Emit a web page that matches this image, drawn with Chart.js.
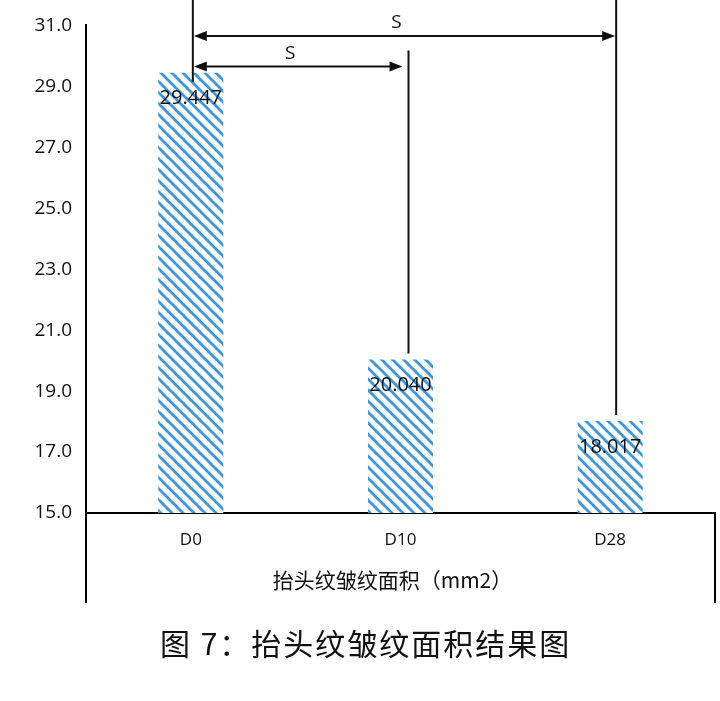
<!DOCTYPE html>
<html>
<head>
<meta charset="utf-8">
<script src="https://cdn.jsdelivr.net/npm/chart.js@4.4.0/dist/chart.umd.min.js"></script>
<style>
  html, body { margin: 0; padding: 0; background: #fff; }
  #wrap { position: relative; width: 720px; height: 701px; }
  #caption {
    position: absolute; left: 160px; top: 620px;
    font-family: "Noto Sans CJK SC", sans-serif; font-size: 30px;
    letter-spacing: 2px; color: #111; white-space: nowrap; font-weight: 400;
  }
</style>
</head>
<body>
<div id="wrap">
  <canvas id="c" width="720" height="701"></canvas>
  <div id="caption">图 7：抬头纹皱纹面积结果图</div>
</div>
<script>
// ---- data ----
const categories = ['D0', 'D10', 'D28'];
const values = [29.447, 20.040, 18.017];
const yMin = 15.0;
const yMax = 31.0;
const yStep = 2.0;
const axisTitle = '抬头纹皱纹面积（mm2）';
// significance brackets: from category index to category index at a value level
const bracketFrom = [0, 0];
const bracketTo = [1, 2];
const bracketLevel = [29.65, 30.65];
const bracketLabel = ['S', 'S'];

// ---- style ----
const barBlue = '#3b97da';
function makeHatch() {
  const p = 11;
  const c = document.createElement('canvas');
  c.width = p; c.height = p;
  const g = c.getContext('2d');
  g.fillStyle = '#ffffff';
  g.fillRect(0, 0, p, p);
  g.strokeStyle = barBlue;
  g.lineWidth = 2.7;
  for (const k of [-p, 0, p]) {
    g.beginPath();
    g.moveTo(k - 1, -1);
    g.lineTo(k + p + 1, p + 1);
    g.stroke();
  }
  return document.getElementById('c').getContext('2d').createPattern(c, 'repeat');
}

const extras = {
  id: 'extras',
  afterDraw(chart) {
    const ctx = chart.ctx;
    const ys = chart.scales.y;
    const area = chart.chartArea;
    const meta = chart.getDatasetMeta(0);
    ctx.save();
    // value labels inside bars
    ctx.fillStyle = '#111';
    ctx.font = '20px "Open Sans", sans-serif';
    ctx.textAlign = 'center';
    ctx.textBaseline = 'middle';
    meta.data.forEach((bar, i) => {
      ctx.fillText(values[i].toFixed(3), bar.x, bar.y + 26);
    });
    // box extension below the x axis
    ctx.strokeStyle = '#000';
    ctx.lineWidth = 2;
    ctx.beginPath();
    ctx.moveTo(area.left, area.bottom);
    ctx.lineTo(area.left, area.bottom + 90);
    ctx.moveTo(area.right, area.bottom - 1);
    ctx.lineTo(area.right, area.bottom + 90);
    ctx.stroke();
    // axis title
    ctx.font = '21px "Noto Sans CJK SC", sans-serif';
    ctx.fillStyle = '#111';
    ctx.fillText(axisTitle, (area.left + area.right) / 2 - 8, area.bottom + 67);
    // brackets
    const offs = [2, 8, 6];
    const vx = (i) => meta.data[i].x + offs[i];
    ctx.lineWidth = 2;
    ctx.strokeStyle = '#111';
    ctx.fillStyle = '#111';
    const vTop = [0, ys.getPixelForValue(30.18), 0];
    ctx.beginPath();
    for (let i = 0; i < categories.length; i++) {
      const bottom = i === 0 ? meta.data[i].y + 9 : meta.data[i].y - 6;
      ctx.moveTo(vx(i), vTop[i]);
      ctx.lineTo(vx(i), bottom);
    }
    ctx.stroke();
    const arrow = (tipX, y, dir) => {
      ctx.beginPath();
      ctx.moveTo(tipX, y);
      ctx.lineTo(tipX - dir * 13, y - 5);
      ctx.lineTo(tipX - dir * 13, y + 5);
      ctx.closePath();
      ctx.fill();
    };
    ctx.font = '19px "Open Sans", sans-serif';
    for (let b = 0; b < bracketFrom.length; b++) {
      const y = ys.getPixelForValue(bracketLevel[b]);
      const x1 = vx(bracketFrom[b]) + 1;
      const x2 = vx(bracketTo[b]) - (bracketTo[b] === 1 ? 6 : 1);
      ctx.beginPath();
      ctx.moveTo(x1 + 4, y);
      ctx.lineTo(x2 - 4, y);
      ctx.stroke();
      arrow(x1, y, -1);
      arrow(x2, y, 1);
      ctx.fillText(bracketLabel[b], (x1 + x2) / 2 - 8, y - 13);
    }
    ctx.restore();
  }
};

new Chart(document.getElementById('c'), {
  type: 'bar',
  data: {
    labels: categories,
    datasets: [{
      data: values,
      backgroundColor: makeHatch(),
      borderWidth: 0,
      barPercentage: 0.31,
      categoryPercentage: 1.0
    }]
  },
  options: {
    responsive: false,
    animation: false,
    devicePixelRatio: 1,
    layout: { padding: { top: 25, right: 5, bottom: 0, left: 0 } },
    plugins: { legend: { display: false }, tooltip: { enabled: false } },
    scales: {
      x: {
        grid: { display: false, drawTicks: false },
        border: { display: true, color: '#000', width: 2 },
        ticks: { color: '#111', font: { family: 'Open Sans', size: 17 }, padding: 17 },
        afterFit(s) { s.height = 188; }
      },
      y: {
        min: yMin, max: yMax,
        grid: { display: false, drawTicks: false },
        border: { display: true, color: '#000', width: 2 },
        ticks: {
          stepSize: yStep,
          color: '#111',
          font: { family: 'Open Sans', size: 19 },
          padding: 14,
          callback: (v) => Number(v).toFixed(1)
        },
        afterFit(s) { s.width = 86; }
      }
    }
  },
  plugins: [extras]
});
</script>
</body>
</html>
